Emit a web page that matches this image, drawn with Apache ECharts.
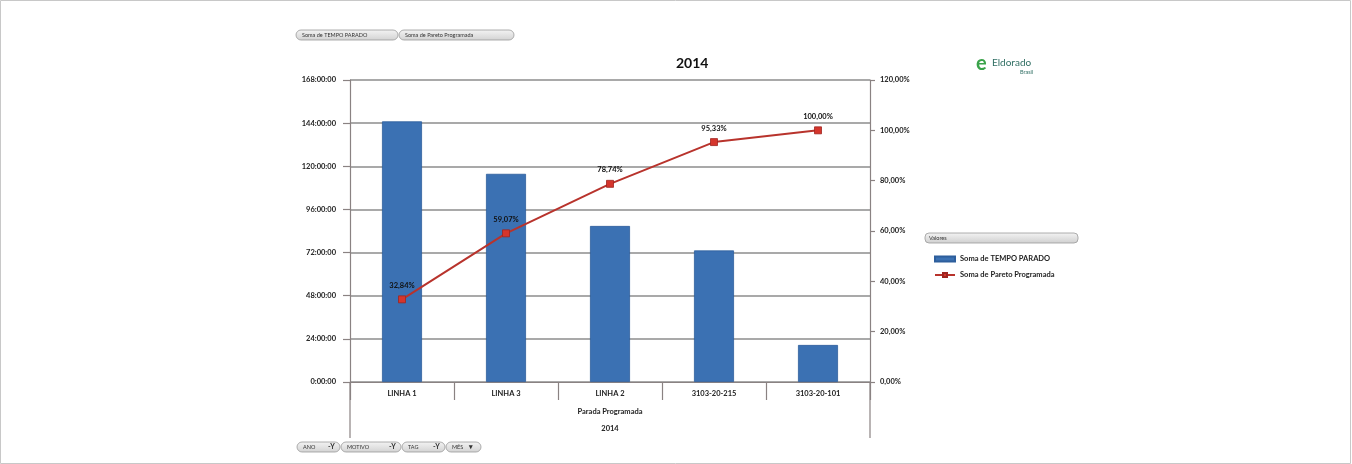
<!DOCTYPE html>
<html><head><meta charset="utf-8">
<script src="https://cdn.jsdelivr.net/npm/echarts@6/dist/echarts.min.js"></script>
<style>html,body{margin:0;padding:0;background:#fff}#c{width:1352px;height:464px}</style>
</head><body><div id="c"></div>
<script>
const categories = ['LINHA 1', 'LINHA 3', 'LINHA 2', '3103-20-215', '3103-20-101'];
const tempoParadoHours = [145.0, 115.8, 86.8, 73.2, 20.6];
const paretoPct = [32.84, 59.07, 78.74, 95.33, 100.00];
const leftTicks = { min: 0, max: 168, interval: 24 };
const rightTicks = { min: 0, max: 120, interval: 20 };
const FONT = 'Lato';

function hms(h) { return Math.round(h) + ':00:00'; }
function pct(v) { return v.toFixed(2).replace('.', ',') + '%'; }

function button(x, y, w, text, extra) {
  const children = [
    { type: 'rect', shape: { x: 0, y: 0, width: w, height: 10, r: 5 },
      style: { fill: new echarts.graphic.LinearGradient(0,0,0,1,[{offset:0,color:'#f4f4f4'},{offset:1,color:'#d2d2d2'}]), stroke: '#9a9a9a', lineWidth: 0.8 } },
    { type: 'text', x: 6, y: 5, style: { text: text, font: '5.5px ' + FONT, fill: '#333', textVerticalAlign: 'middle' } }
  ];
  if (extra) children.push({ type: 'text', x: w - 12, y: 5, style: { text: extra, font: 'bold 7px ' + FONT, fill: '#333', textVerticalAlign: 'middle' } });
  return { type: 'group', x: x, y: y, children: children };
}

const chart = echarts.init(document.getElementById('c'));
chart.setOption({
  animation: false,
  backgroundColor: '#fff',
  textStyle: { fontFamily: FONT },
  title: { text: '2014', left: 671, top: 51, textStyle: { fontSize: 14, fontWeight: 'bold', color: '#111', fontFamily: FONT } },
  grid: { left: 350, right: 482, top: 80, bottom: 82 },
  legend: {
    orient: 'vertical', left: 929, top: 250, itemGap: 8, itemWidth: 20, itemHeight: 5,
    textStyle: { fontSize: 7.5, color: '#222', fontWeight: 'bold', fontFamily: FONT },
    data: [
      { name: 'Soma de TEMPO PARADO', icon: 'rect' },
      { name: 'Soma de Pareto Programada' }
    ]
  },
  xAxis: {
    type: 'category', data: categories,
    axisLine: { lineStyle: { color: '#8a8282', width: 1.2 } },
    axisTick: { show: true, length: 18, lineStyle: { color: '#8a8282', width: 1.2 } },
    axisLabel: { fontSize: 7.5, color: '#222', fontWeight: 'bold', margin: 8 },
    name: 'Parada Programada\n2014', nameLocation: 'middle', nameGap: 21,
    nameTextStyle: { fontSize: 7.5, color: '#222', fontWeight: 'bold', lineHeight: 17, fontFamily: FONT, verticalAlign: 'top' }
  },
  yAxis: [
    {
      type: 'value', min: leftTicks.min, max: leftTicks.max, interval: leftTicks.interval,
      axisLine: { show: true, lineStyle: { color: '#8a8282', width: 1.2 } },
      axisTick: { show: true, length: 7, lineStyle: { color: '#8a8282', width: 1.2 } },
      splitLine: { show: true, lineStyle: { color: '#8c8c8c', width: 1.5 } },
      axisLabel: { formatter: hms, fontSize: 7.5, color: '#222', fontWeight: 'bold', margin: 14 }
    },
    {
      type: 'value', min: rightTicks.min, max: rightTicks.max, interval: rightTicks.interval,
      axisLine: { show: true, lineStyle: { color: '#8a8282', width: 1.2 } },
      axisTick: { show: true, length: 5, lineStyle: { color: '#8a8282', width: 1.2 } },
      splitLine: { show: false },
      axisLabel: { formatter: pct, fontSize: 7.5, color: '#222', fontWeight: 'bold', margin: 10 }
    }
  ],
  series: [
    {
      name: 'Soma de TEMPO PARADO', type: 'bar', data: tempoParadoHours, barWidth: 40,
      itemStyle: { color: '#3b71b3', borderColor: '#2d5e9c', borderWidth: 0.8 }
    },
    {
      name: 'Soma de Pareto Programada', type: 'line', yAxisIndex: 1, data: paretoPct,
      symbol: 'rect', symbolSize: 7,
      lineStyle: { color: '#b8332c', width: 2 },
      itemStyle: { color: '#d5352c', borderColor: '#9e2420', borderWidth: 0.8 },
      label: { show: true, position: 'top', distance: 6, formatter: p => pct(p.value), fontSize: 7.5, fontWeight: 'bold', color: '#111' }
    }
  ],
  graphic: [
    { type: 'rect', shape: { x: 0.5, y: 0.5, width: 1350, height: 463 }, style: { fill: 'none', stroke: '#c8c8c8', lineWidth: 1 }, silent: true },
    button(296, 30, 102, 'Soma de TEMPO PARADO'),
    button(399, 30, 115, 'Soma de Pareto Programada'),
    button(297, 442, 43, 'ANO', '-Y'),
    button(341, 442, 60, 'MOTIVO', '-Y'),
    button(402, 442, 43, 'TAG', '-Y'),
    button(446, 442, 35, 'MÊS', '▾'),
    { type: 'line', shape: { x1: 350, y1: 382, x2: 350, y2: 438 }, style: { stroke: '#8a8282', lineWidth: 1.2 } },
    { type: 'line', shape: { x1: 870, y1: 382, x2: 870, y2: 438 }, style: { stroke: '#8a8282', lineWidth: 1.2 } },
    { type: 'group', x: 925, y: 233, children: [
      { type: 'rect', shape: { x: 0, y: 0, width: 153, height: 10, r: 4 },
        style: { fill: new echarts.graphic.LinearGradient(0,0,0,1,[{offset:0,color:'#f4f4f4'},{offset:1,color:'#cfcfcf'}]), stroke: '#9a9a9a', lineWidth: 0.8 } },
      { type: 'text', x: 4, y: 5, style: { text: 'Valores', font: '5.5px ' + FONT, fill: '#333', textVerticalAlign: 'middle' } }
    ] },
    { type: 'group', x: 976, y: 54, children: [
      { type: 'text', x: 0, y: 0, style: { text: 'e', font: 'bold 20px ' + FONT, fill: '#3aa34a' } },
      { type: 'text', x: 16, y: 4, style: { text: 'Eldorado', font: '10px ' + FONT, fill: '#2f6e63' } },
      { type: 'text', x: 44, y: 15, style: { text: 'Brasil', font: '5.5px ' + FONT, fill: '#2f6e63' } }
    ] }
  ]
});
</script></body></html>
